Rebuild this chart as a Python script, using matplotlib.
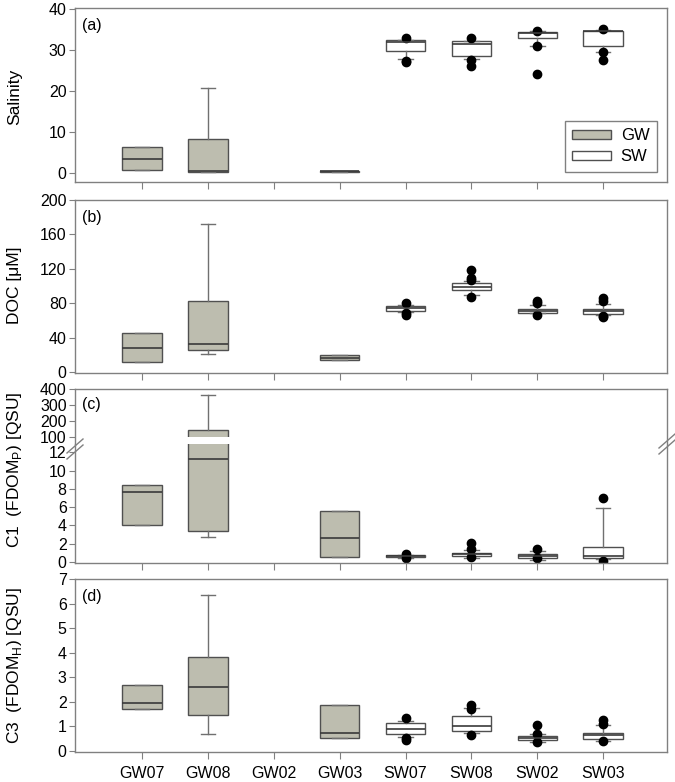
import matplotlib
matplotlib.use("Agg")
import matplotlib.pyplot as plt
from matplotlib.patches import Rectangle, Patch
from matplotlib.lines import Line2D

plt.rcParams['font.family'] = ['Liberation Sans', 'DejaVu Sans']
plt.rcParams['mathtext.fontset'] = 'custom'
plt.rcParams['mathtext.rm'] = 'Liberation Sans'

sites = ["GW07", "GW08", "GW02", "GW03", "SW07", "SW08", "SW02", "SW03"]
groups = ["GW", "GW", "GW", "GW", "SW", "SW", "SW", "SW"]

# Salinity
sal_q1 = [0.8, 0.3, None, 0.3, 29.8, 28.5, 33.0, 31.0]
sal_med = [3.4, 0.4, None, 0.4, 31.9, 31.4, 34.0, 34.5]
sal_q3 = [6.3, 8.2, None, 0.5, 32.4, 32.2, 34.3, 34.6]
sal_lo = [0.8, 0.3, None, 0.3, 27.7, 27.7, 31.0, 29.4]
sal_hi = [6.3, 20.7, None, 0.5, 32.4, 32.2, 34.5, 34.8]
sal_fl = [[], [], [], [], [32.8, 27.2, 27.0], [32.8, 27.5, 26.1],
          [34.7, 31.0, 24.1], [35.0, 29.4, 27.6]]

# DOC
doc_q1 = [11.6, 25.9, None, 14.5, 71.4, 95.7, 68.7, 67.6]
doc_med = [28.6, 32.8, None, 16.0, 74.5, 99.2, 70.7, 70.7]
doc_q3 = [45.2, 83.0, None, 20.0, 76.4, 103.0, 73.7, 73.4]
doc_lo = [11.6, 20.5, None, 14.5, 70.0, 90.0, 68.3, 66.4]
doc_hi = [45.2, 171.8, None, 20.0, 78.0, 105.8, 78.0, 79.5]
doc_fl = [[], [], [], [], [80.7, 68.7, 66.8], [118.5, 109.0, 107.3, 87.6],
          [82.6, 80.3, 66.4], [85.7, 82.2, 65.0, 63.7]]

# C1 (FDOM_P)
c1_q1 = [4.1, 3.37, None, 0.59, 0.51, 0.66, 0.40, 0.40]
c1_med = [7.6, 11.25, None, 2.64, 0.62, 0.84, 0.62, 0.70]
c1_q3 = [8.4, 142.0, None, 5.57, 0.73, 1.03, 0.88, 1.68]
c1_lo = [4.1, 2.75, None, 0.59, 0.45, 0.50, 0.18, 0.29]
c1_hi = [8.4, 364.0, None, 5.57, 0.82, 1.28, 1.17, 5.93]
c1_fl = [[], [], [], [], [0.85, 0.48], [2.12, 1.47, 0.55], [1.47, 0.44],
         [7.03, 0.15]]

# C3 (FDOM_H)
c3_q1 = [1.70, 1.45, None, 0.52, 0.69, 0.79, 0.42, 0.50]
c3_med = [1.93, 2.60, None, 0.71, 0.90, 1.02, 0.52, 0.64]
c3_q3 = [2.70, 3.84, None, 1.86, 1.13, 1.42, 0.61, 0.73]
c3_lo = [1.70, 0.68, None, 0.52, 0.58, 0.72, 0.37, 0.41]
c3_hi = [2.70, 6.35, None, 1.86, 1.23, 1.75, 0.69, 1.05]
c3_fl = [[], [], [], [], [1.33, 0.54, 0.45], [1.86, 1.72, 0.66],
         [1.03, 0.68, 0.37], [1.25, 1.11, 0.39]]

GW_COLOR = '#bdbdaf'
SW_COLOR = '#ffffff'
SPINE = '#808080'
W, H = 675, 782

fig = plt.figure(figsize=(6.75, 7.82), dpi=100)


def fig_axes(top_px, bot_px):
    return fig.add_axes([75 / W, 1 - bot_px / H, (667 - 75) / W, (bot_px - top_px) / H])


def style(ax, show_bottom=True):
    for s in ['left', 'right', 'top', 'bottom']:
        ax.spines[s].set_color(SPINE)
        ax.spines[s].set_linewidth(1.0)
    ax.set_xlim(-0.02, 8.97)
    ax.tick_params(axis='y', direction='out', length=4, color=SPINE, labelsize=11.5, pad=2)
    ax.tick_params(axis='x', direction='out', length=5, color=SPINE, labelsize=11.5, pad=5)
    ax.set_xticks(range(1, len(sites) + 1))
    ax.set_xticklabels([])
    if not show_bottom:
        ax.tick_params(axis='x', length=0)


def draw(ax, q1, med, q3, lo, hi, fl):
    stats, pos, cols = [], [], []
    for i in range(len(sites)):
        if q1[i] is None:
            continue
        stats.append(dict(q1=q1[i], med=med[i], q3=q3[i], whislo=lo[i],
                          whishi=hi[i], fliers=fl[i]))
        pos.append(i + 1)
        cols.append(GW_COLOR if groups[i] == 'GW' else SW_COLOR)
    bp = ax.bxp(stats, positions=pos, widths=0.6, patch_artist=True,
                manage_ticks=False, capwidths=0.22,
                boxprops=dict(edgecolor='#505050', linewidth=1.0),
                whiskerprops=dict(color='#707070', linewidth=1.0),
                capprops=dict(color='#707070', linewidth=1.0),
                medianprops=dict(color='#3a3a3a', linewidth=1.2),
                flierprops=dict(marker='o', markerfacecolor='black',
                                markeredgecolor='black', markersize=6))
    for b, c in zip(bp['boxes'], cols):
        b.set_facecolor(c)
    return bp


# (a) Salinity
axa = fig_axes(8, 182)
draw(axa, sal_q1, sal_med, sal_q3, sal_lo, sal_hi, sal_fl)
style(axa)
axa.set_ylim(-2.2, 40.2)
axa.set_yticks([0, 10, 20, 30, 40])
axa.text(0.012, 0.94, '(a)', transform=axa.transAxes, va='top', ha='left', fontsize=11.5)
leg = axa.legend(handles=[Patch(facecolor=GW_COLOR, edgecolor='#505050', label='GW'),
                          Patch(facecolor=SW_COLOR, edgecolor='#505050', label='SW')],
                 loc='upper right', bbox_to_anchor=(0.983, 0.352), fancybox=False,
                 framealpha=1, edgecolor=SPINE, fontsize=12, handlelength=2.3,
                 handleheight=0.45, handletextpad=0.6, borderpad=0.45,
                 labelspacing=0.35, borderaxespad=0)
leg.get_frame().set_linewidth(1.0)

# (b) DOC
axb = fig_axes(200, 373)
draw(axb, doc_q1, doc_med, doc_q3, doc_lo, doc_hi, doc_fl)
style(axb)
axb.set_ylim(-1, 200)
axb.set_yticks([0, 40, 80, 120, 160, 200])
axb.text(0.012, 0.94, '(b)', transform=axb.transAxes, va='top', ha='left', fontsize=11.5)

# (c) C1 broken axis
axcu = fig_axes(389, 443.5)
axcl = fig_axes(443.5, 563)
draw(axcu, c1_q1, c1_med, c1_q3, c1_lo, c1_hi, c1_fl)
draw(axcl, c1_q1, c1_med, c1_q3, c1_lo, c1_hi, c1_fl)
style(axcu, show_bottom=False)
style(axcl)
axcu.set_ylim(59, 400)
axcu.set_yticks([100, 200, 300, 400])
axcl.set_ylim(-0.1, 12.95)
axcl.set_yticks([0, 2, 4, 6, 8, 10, 12])
axcu.spines['bottom'].set_visible(False)
axcl.spines['top'].set_visible(False)
axcu.add_patch(Rectangle((2 - 0.33, 59), 0.66, 41, facecolor='white',
                         edgecolor='none', zorder=10))
axcu.text(0.012, 0.86, '(c)', transform=axcu.transAxes, va='top', ha='left', fontsize=11.5)

# break marks
for cx, cy in [(75, 449), (667, 444)]:
    for off in (-3, 3):
        fig.add_artist(Line2D([(cx - 8) / W, (cx + 8) / W],
                              [1 - (cy + off + 7) / H, 1 - (cy + off - 7) / H],
                              color=SPINE, linewidth=1.0, transform=fig.transFigure))

# (d) C3
axd = fig_axes(579, 752)
draw(axd, c3_q1, c3_med, c3_q3, c3_lo, c3_hi, c3_fl)
style(axd)
axd.set_ylim(-0.05, 7)
axd.set_yticks(range(0, 8))
axd.set_xticklabels(sites)
axd.text(0.012, 0.94, '(d)', transform=axd.transAxes, va='top', ha='left', fontsize=11.5)

# y labels
fig.text(15 / W, 1 - 97 / H, 'Salinity', rotation=90, ha='center', va='center', fontsize=12.5)
fig.text(15 / W, 1 - 285 / H, 'DOC [μM]', rotation=90, ha='center', va='center', fontsize=12.5)
fig.text(15 / W, 1 - 470 / H, r'C1  (FDOM$_\mathregular{P}$) [QSU]', rotation=90,
         ha='center', va='center', fontsize=12.5)
fig.text(15 / W, 1 - 666 / H, r'C3  (FDOM$_\mathregular{H}$) [QSU]', rotation=90,
         ha='center', va='center', fontsize=12.5)

fig.savefig('out.png', dpi=100)
